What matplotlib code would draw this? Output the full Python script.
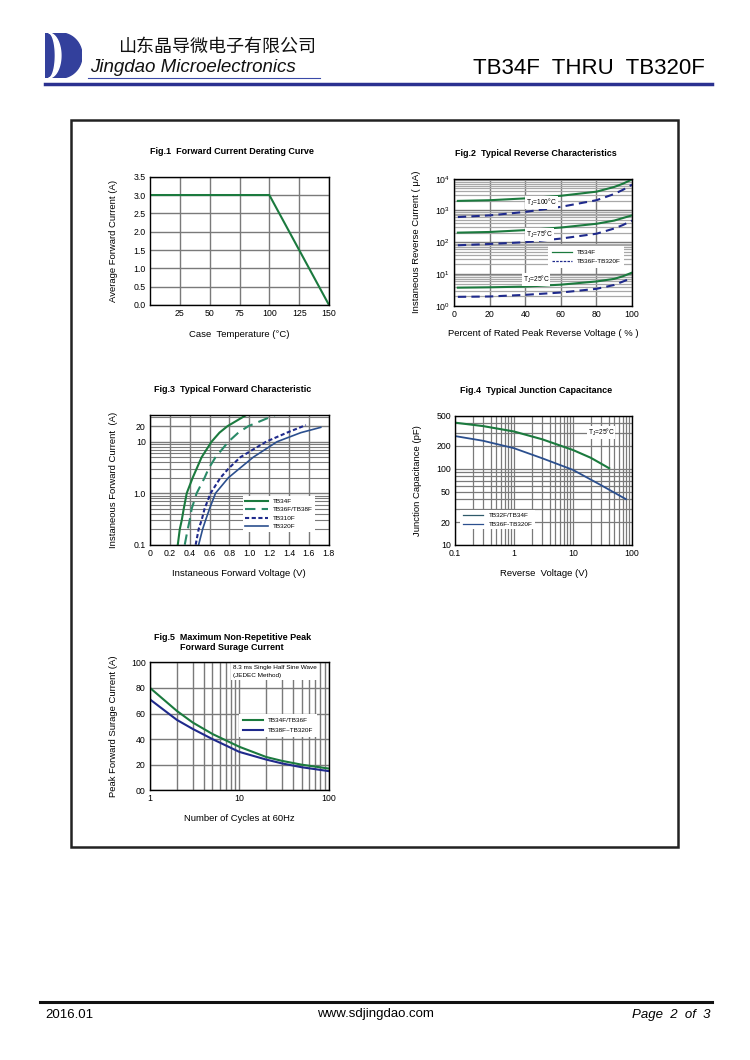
import numpy as np
import matplotlib.pyplot as plt
from matplotlib.patches import Rectangle, Polygon
from matplotlib.lines import Line2D
from matplotlib.ticker import LogLocator, NullFormatter, FixedLocator, FixedFormatter

plt.rcParams['font.family'] = ['Liberation Sans', 'DejaVu Sans']
plt.rcParams['axes.unicode_minus'] = False
plt.rcParams['mathtext.fontset'] = 'custom'
plt.rcParams['mathtext.rm'] = 'Liberation Sans'
plt.rcParams['mathtext.it'] = 'Liberation Sans:italic'

# ---------------- data ----------------
# Fig.1 derating
f1_temp = [0, 100, 150]
f1_amp = [3.0, 3.0, 0.0]

# Fig.2 reverse current (uA) vs percent of rated voltage
f2_pct = [2, 20, 40, 60, 80, 90, 95, 100]
f2_34_100 = [2000, 2100, 2400, 2900, 3900, 5500, 7000, 9500]
f2_36_100 = [620, 700, 900, 1300, 2100, 3300, 4500, 6500]
f2_34_75 = [200, 210, 240, 290, 380, 480, 580, 700]
f2_36_75 = [80, 88, 100, 130, 185, 270, 350, 480]
f2_34_25 = [3.7, 3.8, 4.0, 4.6, 5.8, 7.0, 8.5, 11]
f2_36_25 = [1.9, 1.95, 2.2, 2.6, 3.4, 4.5, 5.8, 7.5]

# Fig.3 forward characteristic
f3_amp = [0.1, 0.2, 0.3, 0.5, 1.0, 2.0, 3.0, 5.0, 10, 15, 20, 33]
f3_v34 = [0.28, 0.30, 0.32, 0.34, 0.37, 0.43, 0.47, 0.52, 0.62, 0.70, 0.78, 0.97]
f3_v36 = [0.35, 0.38, 0.40, 0.42, 0.47, 0.55, 0.59, 0.66, 0.79, 0.89, 0.99, 1.26]
f3_amp310 = [0.1, 0.2, 0.3, 0.5, 1.0, 2.0, 3.0, 5.0, 10, 15, 21]
f3_v310 = [0.46, 0.49, 0.52, 0.55, 0.61, 0.71, 0.79, 0.91, 1.17, 1.38, 1.57]
f3_amp320 = [0.1, 0.2, 0.3, 0.5, 1.0, 2.0, 3.0, 5.0, 10, 15, 19]
f3_v320 = [0.49, 0.53, 0.56, 0.60, 0.66, 0.79, 0.90, 1.04, 1.28, 1.52, 1.72]

# Fig.4 junction capacitance
f4_v34 = [0.1, 0.3, 1, 3, 10, 20, 41]
f4_c34 = [405, 365, 310, 245, 177, 140, 102]
f4_v36 = [0.1, 0.3, 1, 3, 10, 30, 79]
f4_c36 = [270, 234, 187, 138, 97, 61, 40]

# Fig.5 surge current
f5_cycles = [1, 2, 3, 5, 10, 20, 30, 50, 100]
f5_34 = [80, 62, 53, 44, 34, 26, 23, 20, 17]
f5_38 = [71, 55, 48, 40, 30, 24, 21, 18, 15]

GREEN = '#1b7a3e'
TEAL = '#2a8a68'
NAVY = '#1f2a8c'
STEEL = '#2b4f8e'
GRID = '#7a7a7a'

W, H = 750, 1060
fig = plt.figure(figsize=(7.5, 10.6), dpi=100)


def rect(l, t, r, b):
    return [l / W, 1 - b / H, (r - l) / W, (b - t) / H]


def style(ax, title, xlabel, ylabel, ypad=32, xpad=25):
    for s in ax.spines.values():
        s.set_linewidth(1.0)
        s.set_zorder(5)
    ax.tick_params(which='both', length=0, labelsize=6.3, pad=3)
    pos = ax.get_position()
    hpx = pos.height * H
    wpx = pos.width * W
    ax.text(0.46, 1 + 25 / hpx, title, transform=ax.transAxes, ha='center', va='center',
            fontsize=6.5, fontweight='bold')
    ax.set_xlabel(xlabel, fontsize=6.8)
    ax.set_ylabel(ylabel, fontsize=6.8)
    ax.xaxis.set_label_coords(0.5, -xpad / hpx)
    ax.yaxis.set_label_coords(-ypad / wpx, 0.5)
    ax.set_axisbelow(True)


# ---------------- header ----------------
logo = fig.add_axes(rect(45, 33, 82, 78))
logo.set_xlim(0, 1)
logo.set_ylim(0, 1)
logo.axis('off')
t = np.linspace(-np.pi / 2, np.pi / 2, 60)
dx = list(0.42 + 0.58 * np.cos(t)) + [0, 0]
dy = list(0.5 + 0.5 * np.sin(t)) + [1, 0]
logo.add_patch(Polygon(np.column_stack([dx[::-1], dy[::-1]]), closed=True, color='#33409c'))
cx_out = 0.1 + 0.33 * np.cos(t)
cx_in = 0.1 + 0.18 * np.cos(t)
cy = 0.5 + 0.5 * np.sin(t)
crescent = np.column_stack([np.concatenate([cx_out, cx_in[::-1]]), np.concatenate([cy, cy[::-1]])])
logo.add_patch(Polygon(crescent, closed=True, color='white'))

fig.text(118 / W, 1 - 47 / H, '山东晶导微电子有限公司', fontsize=13, family=['Noto Sans CJK SC'],
         va='center', ha='left', color='#111111')
fig.text(90 / W, 1 - 68 / H, 'Jingdao Microelectronics', fontsize=13.5, style='italic',
         va='center', ha='left', color='#111111')
fig.add_artist(Line2D([88 / W, 320 / W], [1 - 78 / H, 1 - 78 / H], color='#3a4aa8', lw=0.8))
fig.add_artist(Line2D([45 / W, 712 / W], [1 - 83.5 / H, 1 - 83.5 / H], color='#2b3190', lw=2.5))
fig.text(705 / W, 1 - 68 / H, 'TB34F  THRU  TB320F', fontsize=16, ha='right', va='center')

# page frame
fig.add_artist(Rectangle((71 / W, 1 - 847 / H), 607 / W, 727.5 / H, fill=False,
                         edgecolor='#222222', lw=1.8, transform=fig.transFigure))

# ---------------- Fig.1 ----------------
ax1 = fig.add_axes(rect(150, 176.7, 329, 305))
ax1.plot(f1_temp, f1_amp, color=GREEN, lw=1.5)
ax1.set_xlim(0, 150)
ax1.set_ylim(0, 3.5)
ax1.set_xticks([25, 50, 75, 100, 125, 150])
ax1.set_yticks(np.arange(0, 3.51, 0.5))
ax1.set_yticklabels(['%.1f' % v for v in np.arange(0, 3.51, 0.5)])
ax1.grid(True, color=GRID, lw=1.0)
style(ax1, 'Fig.1  Forward Current Derating Curve', 'Case  Temperature (°C)',
      'Average Forward Current (A)')

# ---------------- Fig.2 ----------------
ax2 = fig.add_axes(rect(454.3, 178.7, 632, 305.7))
ax2.set_yscale('log')
ax2.plot(f2_pct, f2_34_100, color=GREEN, lw=1.5)
ax2.plot(f2_pct, f2_36_100, color=NAVY, lw=1.5, ls=(0, (4, 2.5)))
ax2.plot(f2_pct, f2_34_75, color=GREEN, lw=1.5)
ax2.plot(f2_pct, f2_36_75, color=NAVY, lw=1.5, ls=(0, (4, 2.5)))
ax2.plot(f2_pct, f2_34_25, color=GREEN, lw=1.5)
ax2.plot(f2_pct, f2_36_25, color=NAVY, lw=1.5, ls=(0, (4, 2.5)))
ax2.set_xlim(0, 100)
ax2.set_ylim(1, 1e4)
ax2.set_xticks([0, 20, 40, 60, 80, 100])
ax2.set_yticks([1, 10, 100, 1000, 10000])
ax2.set_yticklabels([r'10$^{0}$', r'10$^{1}$', r'10$^{2}$', r'10$^{3}$', r'10$^{4}$'])
ax2.yaxis.set_minor_locator(LogLocator(subs=np.arange(2, 10)))
ax2.yaxis.set_minor_formatter(NullFormatter())
ax2.grid(True, which='major', color=GRID, lw=1.0)
ax2.grid(True, which='minor', axis='y', color='#a8a8a8', lw=0.9)
for xt, yt, txt in [(49, 1750, r'T$_{\rm J}$=100°C'), (48, 170, r'T$_{\rm J}$=75°C'),
                    (46, 6.5, r'T$_{\rm J}$=25°C')]:
    ax2.text(xt, yt, txt, fontsize=4.8, ha='center', va='center',
             bbox=dict(facecolor='white', edgecolor='none', pad=0.6))
lg_a = Line2D([], [], color=GREEN, lw=0.9)
lg_b = Line2D([], [], color=NAVY, lw=0.9, ls=(0, (2, 1)))
ax2.legend([lg_a, lg_b], ['TB34F', 'TB36F-TB320F'], loc='lower left', bbox_to_anchor=(0.53, 0.30),
           fontsize=4.6, frameon=True, fancybox=False, edgecolor='none', framealpha=1,
           handlelength=3.2, borderpad=0.5, labelspacing=0.6, borderaxespad=0)
style(ax2, 'Fig.2  Typical Reverse Characteristics', 'Percent of Rated Peak Reverse Voltage ( % )',
      'Instaneous Reverse Current ( μA)', ypad=33, xpad=23)

# ---------------- Fig.3 ----------------
ax3 = fig.add_axes(rect(150, 415, 328.7, 544.7))
ax3.set_yscale('log')
ax3.plot(f3_v34, f3_amp, color=GREEN, lw=1.5, label='TB34F')
ax3.plot(f3_v36, f3_amp, color=TEAL, lw=1.5, ls=(0, (5, 3)), label='TB36F/TB38F')
ax3.plot(f3_v310, f3_amp310, color=NAVY, lw=1.5, ls=(0, (2, 1.2)), label='TB310F')
ax3.plot(f3_v320, f3_amp320, color=STEEL, lw=1.2, label='TB320F')
ax3.set_xlim(0, 1.8)
ax3.set_ylim(0.1, 33)
ax3.set_xticks(np.arange(0, 1.81, 0.2))
ax3.set_xticklabels(['0'] + ['%.1f' % v for v in np.arange(0.2, 1.81, 0.2)])
ax3.set_yticks([0.1, 1, 10, 20])
ax3.set_yticklabels(['0.1', '1.0', '10', '20'])
ax3.yaxis.set_minor_locator(LogLocator(subs=np.arange(2, 10)))
ax3.yaxis.set_minor_formatter(NullFormatter())
ax3.grid(True, which='major', color=GRID, lw=1.0)
ax3.grid(True, which='minor', axis='y', color=GRID, lw=0.8)
ax3.legend(loc='lower left', bbox_to_anchor=(0.52, 0.10), fontsize=4.6, frameon=True,
           fancybox=False, edgecolor='none', framealpha=1, handlelength=3.5,
           borderpad=0.4, labelspacing=0.45, borderaxespad=0)
style(ax3, 'Fig.3  Typical Forward Characteristic', 'Instaneous Forward Voltage (V)',
      'Instaneous Forward Current  (A)', ypad=32, xpad=24)

# ---------------- Fig.4 ----------------
ax4 = fig.add_axes(rect(455, 415.7, 632, 545))
ax4.set_xscale('log')
ax4.set_yscale('log')
ax4.plot(f4_v34, f4_c34, color=GREEN, lw=1.5)
ax4.plot(f4_v36, f4_c36, color=STEEL, lw=1.3)
ax4.set_xlim(0.1, 100)
ax4.set_ylim(10, 500)
ax4.xaxis.set_major_locator(FixedLocator([0.1, 1, 10, 100]))
ax4.xaxis.set_major_formatter(FixedFormatter(['0.1', '1', '10', '100']))
ax4.yaxis.set_major_locator(FixedLocator([10, 20, 50, 100, 200, 500]))
ax4.yaxis.set_major_formatter(FixedFormatter(['10', '20', '50', '100', '200', '500']))
ax4.xaxis.set_minor_locator(LogLocator(subs=np.arange(2, 10)))
ax4.yaxis.set_minor_locator(LogLocator(subs=np.arange(2, 10)))
ax4.xaxis.set_minor_formatter(NullFormatter())
ax4.yaxis.set_minor_formatter(NullFormatter())
ax4.grid(True, which='both', color=GRID, lw=0.9)
ax4.text(30, 300, r'T$_{\rm J}$=25°C', fontsize=4.8, ha='center', va='center',
         bbox=dict(facecolor='white', edgecolor='none', pad=0.6))
lg_c = Line2D([], [], color='#2f5a6a', lw=0.9)
lg_d = Line2D([], [], color=STEEL, lw=0.9)
ax4.legend([lg_c, lg_d], ['TB32F/TB34F', 'TB36F-TB320F'], loc='lower left',
           bbox_to_anchor=(0.03, 0.12), fontsize=4.6, frameon=True, fancybox=False,
           edgecolor='none', framealpha=1, handlelength=3.2, borderpad=0.4,
           labelspacing=0.5, borderaxespad=0)
style(ax4, 'Fig.4  Typical Junction Capacitance', 'Reverse  Voltage (V)',
      'Junction Capacitance (pF)', ypad=33, xpad=24)

# ---------------- Fig.5 ----------------
ax5 = fig.add_axes(rect(150, 662.3, 328.7, 790.3))
ax5.set_xscale('log')
ax5.plot(f5_cycles, f5_34, color=GREEN, lw=1.5, label='TB34F/TB36F')
ax5.plot(f5_cycles, f5_38, color=NAVY, lw=1.5, label='TB38F~TB320F')
ax5.set_xlim(1, 100)
ax5.set_ylim(0, 100)
ax5.xaxis.set_major_locator(FixedLocator([1, 10, 100]))
ax5.xaxis.set_major_formatter(FixedFormatter(['1', '10', '100']))
ax5.xaxis.set_minor_locator(LogLocator(subs=np.arange(2, 10)))
ax5.xaxis.set_minor_formatter(NullFormatter())
ax5.set_yticks(np.arange(0, 101, 20))
ax5.set_yticklabels(['00', '20', '40', '60', '80', '100'])
ax5.grid(True, which='both', color=GRID, lw=1.0)
ax5.text(0.465, 0.975, '8.3 ms Single Half Sine Wave\n(JEDEC Method)', transform=ax5.transAxes,
         fontsize=4.6, ha='left', va='top', linespacing=1.5,
         bbox=dict(facecolor='white', edgecolor='none', pad=1.5))
ax5.legend(loc='lower left', bbox_to_anchor=(0.5, 0.42), fontsize=4.6, frameon=True,
           fancybox=False, edgecolor='none', framealpha=1, handlelength=3.2,
           borderpad=0.5, labelspacing=0.8, borderaxespad=0)
style(ax5, 'Fig.5  Maximum Non-Repetitive Peak\nForward Surage Current', 'Number of Cycles at 60Hz',
      'Peak Forward Surage Current (A)', ypad=32, xpad=24)
ax5.texts[-1].set_position((0.46, 1 + 20 / 128))

# ---------------- footer ----------------
fig.add_artist(Line2D([40 / W, 712 / W], [1 - 1001.5 / H, 1 - 1001.5 / H], color='#111111', lw=2.2))
fig.text(45 / W, 1 - 1015 / H, '2016.01', fontsize=9.5, ha='left', va='center')
fig.text(375 / W, 1 - 1014 / H, 'www.sdjingdao.com', fontsize=9.5, ha='center', va='center')
fig.text(710 / W, 1 - 1015 / H, 'Page  2  of  3', fontsize=9.5, style='italic', ha='right', va='center')

fig.savefig('out.png', dpi=100)
